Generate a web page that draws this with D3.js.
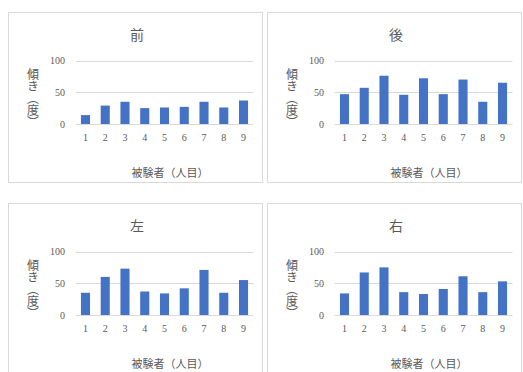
<!DOCTYPE html>
<html><head><meta charset="utf-8">
<script src="https://cdn.jsdelivr.net/npm/d3@7"></script>
<style>body{margin:0;background:#fff}</style>
</head><body>
<script>
const categories = ["1","2","3","4","5","6","7","8","9"];
const titles = ["前","後","左","右"];
const valuesFront = [14, 29, 35, 25, 26, 27, 35, 26, 37];
const valuesBack  = [47, 57, 76, 46, 72, 47, 70, 35, 65];
const valuesLeft  = [35, 60, 73, 37, 34, 42, 71, 35, 55];
const valuesRight = [34, 67, 75, 36, 33, 41, 61, 36, 53];
const yTicks = [0, 50, 100];
const yLabel = "傾き（度）";
const xLabel = "被験者（人目）";

const series = [valuesFront, valuesBack, valuesLeft, valuesRight];
const origins = [[8,12],[267,12],[8,203],[267,203]];
const W = 523, H = 372;
const svg = d3.select("body").append("svg").attr("width", W).attr("height", H);
const textCol = "#595959";
const jp = "'Noto Sans CJK JP', sans-serif";
const num = "'Liberation Serif', serif";

series.forEach((vals, i) => {
  const [ox, oy] = origins[i];
  const g = svg.append("g").attr("transform", `translate(${ox},${oy})`);
  g.append("rect").attr("x", 0.5).attr("y", 0.5).attr("width", 254).attr("height", 170)
    .attr("fill", "#fff").attr("stroke", "#d9d9d9");
  const x = d3.scaleBand().domain(categories).range([67.6, 245.4]).paddingInner(0.54).paddingOuter(0.27);
  const y = d3.scaleLinear().domain([0, 100]).range([112, 48.5]);
  g.append("g").selectAll("line").data(yTicks).join("line")
    .attr("x1", 67.6).attr("x2", 245.4)
    .attr("y1", d => Math.round(y(d)) + 0.5).attr("y2", d => Math.round(y(d)) + 0.5)
    .attr("stroke", "#d9d9d9").attr("stroke-width", 1);
  const ya = g.append("g").attr("transform", "translate(57,0)")
    .call(d3.axisLeft(y).tickValues(yTicks).tickSize(0).tickPadding(0));
  ya.select(".domain").remove();
  ya.selectAll("text").attr("font-family", num).attr("font-size", 10).attr("fill", textCol);
  g.append("g").selectAll("rect").data(vals).join("rect")
    .attr("x", (d, k) => x(categories[k]))
    .attr("width", x.bandwidth())
    .attr("y", d => y(d))
    .attr("height", d => y(0) - y(d))
    .attr("fill", "#4472c4");
  const xa = g.append("g").attr("transform", "translate(0,122)")
    .call(d3.axisBottom(x).tickSize(0).tickPadding(0));
  xa.select(".domain").remove();
  xa.selectAll("text").attr("font-family", num).attr("font-size", 10).attr("fill", textCol);
  g.append("text").attr("x", 129).attr("y", 28).attr("text-anchor", "middle")
    .attr("font-family", jp).attr("font-size", 14).attr("fill", textCol).text(titles[i]);
  g.append("text").attr("x", 162).attr("y", 165).attr("text-anchor", "middle")
    .attr("font-family", jp).attr("font-size", 11).attr("fill", textCol).text(xLabel);
  g.append("text").attr("x", 25).attr("y", 86).attr("text-anchor", "middle")
    .style("writing-mode", "vertical-rl")
    .attr("font-family", jp).attr("font-size", 12).attr("fill", textCol).text(yLabel);
});
</script>
</body></html>
